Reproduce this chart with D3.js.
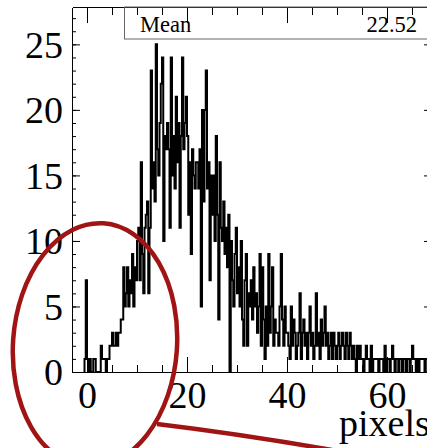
<!DOCTYPE html>
<html><head><meta charset="utf-8">
<script src="https://cdn.jsdelivr.net/npm/d3@7"></script>
<style>body{margin:0;background:#fff;} svg{display:block}</style>
</head><body><svg id="c" width="427" height="448"></svg>
<script>
// Histogram: bins of width 0.25 starting at -0.5 (pixels)
const binStart = -0.5;
const binWidth = 0.25;
const counts = [
  1,7,
  1,0,1,0,   0,1,1,0,   0,0,0,2,   1,1,1,0,   1,1,2,2,
  3,2,2,3,   2,3,3,4,   4,8,5,6,   8,5,7,6,   9,5,8,7,
  10,11,7,16, 9,6,11,12, 13,6,11,23, 14,16,13,25, 17,15,19,22,
  24,10,18,17, 19,17,11,24, 15,18,14,21, 16,19,11,18, 24,17,19,21,
  18,12,16,9, 17,15,14,16, 16,14,17,5, 20,13,20,23, 14,16,7,15,
  12,15,10,18, 12,4,16,11, 10,13,9,11, 8,12,0,10, 7,5,9,11,
  6,8,5,10,  4,2,7,9,   2,6,5,7,   4,8,5,6,   3,5,9,2,
  8,4,1,5,   2,9,3,5,   8,2,4,3,   3,2,5,9,   4,2,5,3,
  3,2,1,5,   2,4,3,1,   2,3,6,1,   3,4,2,3,   1,3,5,2,
  3,1,2,6,   2,3,1,4,   2,3,5,2,   3,1,2,3,   1,3,2,1,
  2,3,1,2,   3,2,1,3,   2,1,3,2,   1,2,1,0,   2,1,2,1,
  1,0,1,2,   1,1,0,2,   0,1,1,1,   1,0,1,1,   1,0,2,0,
  1,1,0,1,   2,1,0,1,   1,0,1,1,   0,1,1,0,   1,1,0,1,
  2,1,1,0,   1,0,1,1,   1,1,0,1,   1,1,0,1
];
const xLabelTicks = [0, 20, 40, 60];
const yLabelTicks = [0, 5, 10, 15, 20, 25];
const statLabel = "Mean";
const statValue = "22.52";
const xTitle = "pixels";

const svg = d3.select("#c");
const x = d3.scaleLinear().domain([-3, 69]).range([72, 432]);
const y = d3.scaleLinear().domain([0, 27.85]).range([372, 7]);
const font = "'Liberation Serif','Times New Roman',serif";

svg.append("clipPath").attr("id","clip").append("rect")
  .attr("x", x(-3)).attr("y", y(27.85)).attr("width", x(69)-x(-3)).attr("height", y(0)-y(27.85));

// histogram step line
const pts = [[binStart, 0]];
counts.forEach((c, i) => pts.push([binStart + i*binWidth, c]));
const endEdge = binStart + counts.length*binWidth;
pts.push([endEdge, counts[counts.length-1]]);
pts.push([endEdge, 0]);
const line = d3.line().x(d => x(d[0])).y(d => y(d[1])).curve(d3.curveStepAfter);
svg.append("path").attr("clip-path","url(#clip)")
  .attr("d", line(pts)).attr("fill","none").attr("stroke","#000").attr("stroke-width",2)
  .attr("stroke-linejoin","miter");

function styleAxis(g){ g.selectAll("line,path").attr("stroke","#000").attr("stroke-width",1); g.selectAll("path").attr("shape-rendering","crispEdges"); }

const minorX = d3.range(0, 69, 5);
const minorY = d3.range(0, 28, 1);

// bottom
svg.append("g").attr("transform",`translate(0,${y(0)})`)
  .call(d3.axisBottom(x).tickValues(minorX).tickSize(-7).tickSizeOuter(0).tickFormat("")).call(styleAxis);
const bx = svg.append("g").attr("transform",`translate(0,${y(0)})`)
  .call(d3.axisBottom(x).tickValues(xLabelTicks).tickSize(-15).tickSizeOuter(0)).call(styleAxis);
bx.selectAll("text").attr("y", 36).attr("dy", null).attr("font-family", font).attr("font-size", 38).attr("fill","#000");
// top
svg.append("g").attr("transform",`translate(0,${y(27.85)})`)
  .call(d3.axisTop(x).tickValues(minorX).tickSize(-8).tickSizeOuter(0).tickFormat("")).call(styleAxis);
svg.append("g").attr("transform",`translate(0,${y(27.85)})`)
  .call(d3.axisTop(x).tickValues(xLabelTicks).tickSize(-16).tickSizeOuter(0).tickFormat("")).call(styleAxis);
// left
svg.append("g").attr("transform",`translate(${x(-3)},0)`)
  .call(d3.axisLeft(y).tickValues(minorY).tickSize(-4).tickSizeOuter(0).tickFormat("")).call(styleAxis);
const ly = svg.append("g").attr("transform",`translate(${x(-3)},0)`)
  .call(d3.axisLeft(y).tickValues(yLabelTicks).tickSize(-8).tickSizeOuter(0)).call(styleAxis);
ly.selectAll("text").attr("x", -9).attr("dy","0.34em").attr("font-family", font).attr("font-size", 38).attr("fill","#000");
// right
svg.append("g").attr("transform",`translate(${x(69)},0)`)
  .call(d3.axisRight(y).tickValues(yLabelTicks).tickSize(-8).tickSizeOuter(0).tickFormat("")).call(styleAxis);

// stats box
svg.append("rect").attr("x",124.5).attr("y",y(27.85)).attr("width",320).attr("height",32)
  .attr("fill","none").attr("stroke","#666").attr("stroke-width",1);
svg.append("text").attr("x",140).attr("y",32).attr("font-family",font).attr("font-size",22.5).text(statLabel);
svg.append("text").attr("x",417).attr("y",32).attr("text-anchor","end").attr("font-family",font).attr("font-size",22.5).text(statValue);

// axis title
svg.append("text").attr("x",339).attr("y",436).attr("font-family",font).attr("font-size",38).text(xTitle);

// annotation
const red = "#a01414";
svg.append("ellipse").attr("cx",95).attr("cy",345).attr("rx",82).attr("ry",122)
  .attr("transform","rotate(4,95,345)")
  .attr("fill","none").attr("stroke",red).attr("stroke-width",4.5);
svg.append("path").attr("d","M157,424 Q240,434 332,450").attr("fill","none").attr("stroke",red).attr("stroke-width",4.5);
</script></body></html>
